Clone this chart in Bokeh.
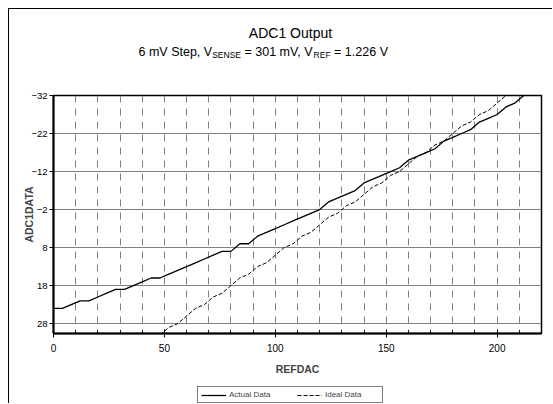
from bokeh.plotting import figure
from bokeh.layouts import column
from bokeh.models import Range1d, FixedTicker, Legend, LegendItem, Label
from bokeh.embed import file_html
from bokeh.resources import INLINE

# ---- data ----
refdac_actual = [0, 4, 8, 12, 16, 20, 24, 28, 32, 36, 40, 44, 48, 52, 56, 60, 64, 68, 72, 76,
                 80, 84, 88, 92, 96, 100, 104, 108, 112, 116, 120, 124, 128, 132, 136, 140,
                 144, 148, 152, 156, 160, 164, 168, 172, 176, 180, 184, 188, 192, 196, 200,
                 204, 208, 212, 216]
adc_actual = [24, 24, 23, 22, 22, 21, 20, 19, 19, 18, 17, 16, 16, 15, 14, 13, 12, 11, 10, 9,
              9, 7, 7, 5, 4, 3, 2, 1, 0, -1, -2, -4, -5, -6, -7, -9,
              -10, -11, -12, -13, -15, -16, -17, -18, -20, -21, -22, -23, -25, -26, -27,
              -29, -30, -32, -33]

refdac_ideal = [48, 52, 56, 60, 64, 68, 72, 76, 80, 84, 88, 92, 96, 100, 104, 108, 112, 116,
                120, 124, 128, 132, 136, 140, 144, 148, 152, 156, 160, 164, 168, 172, 176,
                180, 184, 188, 192, 196, 200, 204, 208]
adc_ideal = [31, 29, 28, 26, 24, 23, 21, 20, 18, 16, 15, 13, 12, 10, 8, 7, 5, 4,
             2, 0, -1, -3, -4, -6, -8, -9, -11, -12, -14, -16, -17, -19, -20,
             -22, -24, -25, -27, -28, -30, -32, -33]

x_ticks = [0, 50, 100, 150, 200]
x_minor_ticks = [0, 10, 20, 30, 40, 50, 60, 70, 80, 90, 100, 110, 120, 130, 140, 150,
                 160, 170, 180, 190, 200, 210, 220]
y_ticks = [-32, -22, -12, -2, 8, 18, 28]

title_text = "ADC1 Output"
subtitle_parts = ["6 mV Step, V", "SENSE", "= 301 mV, V", "REF", "= 1.226 V"]
series_names = ["Actual Data", "Ideal Data"]

FONT = "Liberation Sans"
ACTUAL_STYLE = dict(line_color="black", line_width=1.3)
IDEAL_STYLE = dict(line_color="black", line_width=1, line_dash="4 2")


def strip(height):
    f = figure(frame_width=488, frame_height=height, title=None,
               output_backend="svg", toolbar_location=None, x_axis_type=None, y_axis_type=None,
               min_border_left=44, min_border_right=11, min_border_top=0, min_border_bottom=0,
               outline_line_color=None, background_fill_color="white",
               border_fill_color="white")
    f.xgrid.visible = False
    f.ygrid.visible = False
    return f


# ---------------- title strip (ranges in page pixels) ----------------
tf = strip(80)
tf.x_range = Range1d(53, 541)
tf.y_range = Range1d(89, 9)
tf.add_layout(Label(x=290, y=32, text=title_text, text_align="center", text_baseline="alphabetic",
                    text_font=FONT, text_font_size="14px", text_color="black"))
seg_x = [138, 211.7, 244, 313.1, 333.6]
seg_y = [51, 54, 51, 54, 51]
seg_size = ["12.5px", "8.5px", "12.5px", "8.5px", "12.5px"]
for t, sx, sy, fs in zip(subtitle_parts, seg_x, seg_y, seg_size):
    tf.add_layout(Label(x=sx, y=sy, text=t, text_align="left", text_baseline="alphabetic",
                        text_font=FONT, text_font_size=fs, text_color="black"))

# ---------------- main chart ----------------
p = figure(frame_width=488, frame_height=238,
           x_range=Range1d(0, 220), y_range=Range1d(30.6, -32),
           output_backend="svg", toolbar_location=None,
           min_border_left=44, min_border_right=11, min_border_top=6, min_border_bottom=44,
           background_fill_color="white", border_fill_color="white",
           outline_line_color="black", outline_line_width=1.5)

xa = p.xaxis[0]
xa.ticker = FixedTicker(ticks=x_ticks, minor_ticks=x_minor_ticks)
xa.axis_label = "REFDAC"
xa.axis_label_text_font = FONT
xa.axis_label_text_font_style = "bold"
xa.axis_label_text_font_size = "10.5px"
xa.axis_label_standoff = 8
xa.major_label_text_font = FONT
xa.major_label_text_font_size = "10px"
xa.major_label_text_color = "black"
xa.major_label_standoff = 6
xa.major_tick_in = 4
xa.major_tick_out = 4
xa.minor_tick_in = 3
xa.minor_tick_out = 0
xa.axis_line_width = 2
xa.major_tick_line_color = "black"
xa.minor_tick_line_color = "black"

ya = p.yaxis[0]
ya.ticker = FixedTicker(ticks=y_ticks, minor_ticks=[])
ya.axis_label = "ADC1DATA"
ya.axis_label_text_font = FONT
ya.axis_label_text_font_style = "bold"
ya.axis_label_text_font_size = "10.5px"
ya.axis_label_standoff = -7
ya.major_label_text_font = FONT
ya.major_label_text_font_size = "9.5px"
ya.major_label_text_color = "black"
ya.major_label_standoff = 2
ya.major_tick_in = 0
ya.major_tick_out = 4
ya.minor_tick_in = 0
ya.minor_tick_out = 0
ya.axis_line_width = 2

p.xgrid.grid_line_color = None
p.xgrid.minor_grid_line_color = "#808080"
p.xgrid.minor_grid_line_dash = "7 6"
p.xgrid.minor_grid_line_width = 1
p.ygrid.grid_line_color = "#808080"
p.ygrid.grid_line_width = 1

p.line(refdac_actual, adc_actual, **ACTUAL_STYLE)
p.line(refdac_ideal, adc_ideal, **IDEAL_STYLE)

# ---------------- legend strip ----------------
# the legend's own copies of the two series lie outside this strip's ranges,
# so only their legend samples show
lf = strip(26)
lf.x_range = Range1d(1000, 1001)
lf.y_range = Range1d(1000, 1001)
leg_actual = lf.line(refdac_actual, adc_actual, **ACTUAL_STYLE)
leg_ideal = lf.line(refdac_ideal, adc_ideal, **IDEAL_STYLE)
legend = Legend(items=[LegendItem(label=series_names[0], renderers=[leg_actual]),
                       LegendItem(label=series_names[1], renderers=[leg_ideal])],
                orientation="horizontal", location=(144, 0),
                padding=3, margin=0, spacing=14, glyph_width=25, glyph_height=8,
                label_height=8, label_width=54, label_standoff=3,
                label_text_font=FONT, label_text_font_size="8px",
                border_line_color="black", border_line_width=1,
                background_fill_color="white", background_fill_alpha=1)
lf.add_layout(legend)

layout = column(tf, p, lf, spacing=0)
layout.styles = {"margin-left": "8px", "margin-top": "8px",
                 "border-left": "1px solid black", "border-top": "1px solid black"}

open("out.html", "w").write(file_html(layout, INLINE))
